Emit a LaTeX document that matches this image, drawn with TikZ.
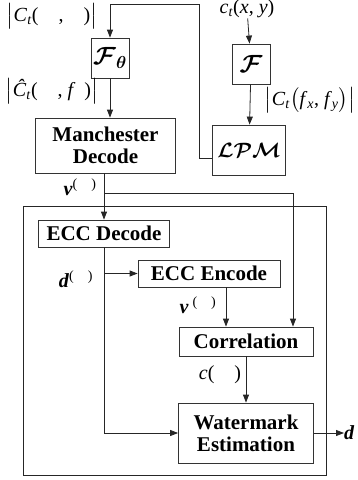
\documentclass[tikz,border=0pt]{standalone}
\usepackage{amsmath}
\usepackage{fontspec}
\setmainfont{Liberation Serif}
\usepackage{bm}
\usetikzlibrary{arrows.meta,positioning}

\begin{document}
\begin{tikzpicture}[x=1pt,y=-1pt,
    every node/.style={font=\fontsize{21}{22}\selectfont\bfseries},
    blk/.style={draw=black!80, line width=0.8pt, fill=white, align=center, inner sep=0pt},
    arr/.style={-{Triangle[length=8pt,width=6pt]}, line width=0.8pt, draw=black!85},
    lin/.style={line width=0.8pt, draw=black!85},
    lbl/.style={font=\fontsize{20}{22}\selectfont, inner sep=0pt}
  ]
  \useasboundingbox (0,0) rectangle (358,480);
  % detector frame
  \draw[lin] (23,206) rectangle (326,475);
  % transform stages
  \node[blk, minimum width=38pt, minimum height=40pt] (fth) at (110,58) {\fontsize{25}{26}\selectfont$\bm{\mathcal{F}_\theta}$};
  \node[blk, minimum width=38pt, minimum height=40pt] (fft) at (251,64) {\fontsize{25}{26}\selectfont$\bm{\mathcal{F}}$};
  \node[blk, minimum width=73pt, minimum height=50pt] (lpm) at (249,150) {\fontsize{22}{24}\selectfont$\bm{\mathcal{LPM}}$};
  \node[blk, minimum width=140pt, minimum height=55pt] (man) at (105.5,145.5) {Manchester\\Decode};
  % decoding chain
  \node[blk, minimum width=131pt, minimum height=27pt] (eccd) at (104,233.5) {ECC Decode};
  \node[blk, minimum width=142pt, minimum height=27pt] (ecce) at (209,273.5) {ECC Encode};
  \node[blk, minimum width=134pt, minimum height=29pt] (corr) at (246,341.5) {Correlation};
  \node[blk, minimum width=135pt, minimum height=60pt] (wme) at (246,433) {Watermark\\Estimation};
  % signal labels
  \node[lbl] (ct) at (247,9) {\textit{c}\textsubscript{\textit{t}}(\textit{x}, \textit{y})};
  \node[lbl] (mag) at (52,16) {$\big|$\textit{C}\textsubscript{\textit{t}}(\quad,\quad)$\big|$};
  \node[lbl] (maghat) at (52,91) {$\big|$\textit{\^{C}}\textsubscript{\textit{t}}(\quad, \textit{f}\;\,)$\big|$};
  \node[lbl] (magf) at (310,100) {$\big|$\textit{C}\textsubscript{\textit{t}}$\big($\textit{f}\textsubscript{\textit{x}}, \textit{f}\textsubscript{\textit{y}}$\big)\big|$};
  \node[lbl] (vlab) at (80,187) {\textbf{\textit{v}}\textsuperscript{(\quad)}};
  \node[lbl] (dlab) at (76,279) {\textbf{\textit{d}}\textsuperscript{(\quad)}};
  \node[lbl] (vplab) at (198,305) {\textbf{\textit{v}}\textsuperscript{\;(\quad)}};
  \node[lbl] (clab) at (220,375) {\textit{c}(\quad)};
  \node[lbl, anchor=west] (dout) at (344,433) {\textbf{\textit{d}}};
  \coordinate (fb) at (199,4);
  \coordinate (vr) at (293,193);
  % connectors
  \draw[arr] (ct) -- (fft);
  \draw[arr] (fft) -- (lpm);
  \draw[arr] ([yshift=-8pt]lpm.west) -| (fb) -| (fth.north);
  \draw[arr] (fth) -- (fth.south |- man.north);
  \draw[arr] (eccd.north |- man.south) -- (eccd.north);
  \draw[arr] (eccd.north |- vr) -- (vr) -- (vr |- corr.north);
  \draw[arr] (eccd.south) -- (eccd.south |- wme.west) -- (wme.west);
  \draw[arr] (eccd.south |- ecce.west) -- (ecce.west);
  \draw[arr] ([xshift=17pt]ecce.south) -- ([xshift=17pt]ecce.south |- corr.north);
  \draw[arr] (corr) -- (wme);
  \draw[arr] (wme) -- (dout);
\end{tikzpicture}
\end{document}
